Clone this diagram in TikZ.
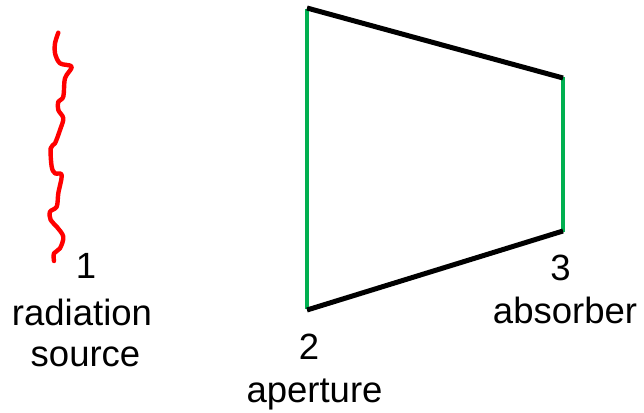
\documentclass[tikz,border=0pt]{standalone}
\usepackage{fontspec}
\setmainfont{Liberation Sans}
\usepackage{tikz}
\usepackage{xcolor}

\definecolor{apgreen}{HTML}{00B050}
\tikzset{
  lbl/.style={anchor=base,inner sep=0pt,font=\fontsize{36.5}{43}\selectfont},
  wall/.style={line width=5pt,black},
  port/.style={line width=3.6pt,apgreen},
}

\begin{document}
\begin{tikzpicture}[x=1pt,y=-1pt]
      \useasboundingbox (0,0) rectangle (644,412);
      % corners of the cavity
      \coordinate (aptop) at (307,9);
      \coordinate (apbot) at (307,309);
      \coordinate (abtop) at (563,77);
      \coordinate (abbot) at (563,232);
      % source
      \draw[line width=4.4pt,red,line cap=round,line join=round] plot[smooth,tension=0.55] coordinates {
        (58.3,32.7) (55,43.3) (55,53.3) (60,63.3) (71.7,66.7) (65,78.3)
        (63.3,96.7) (58.3,101.7) (58.3,110) (63.3,118.3) (60,130) (55,143.3)
        (50.7,148.3) (51.7,166.7) (55,173.3) (61.7,175) (58.3,193.3) (56.7,206.7)
        (50,211.7) (50.7,220) (56.7,226.7) (63.3,236.7) (60,248.3) (54,253.3) (54,261)};
      \draw[port] (aptop) -- (apbot);
      \draw[port] (abtop) -- (abbot);
      \draw[wall] ([yshift=1pt]aptop) -- ([yshift=-1pt]abtop);
      \draw[wall] ([yshift=-1pt]apbot) -- ([yshift=1pt]abbot);
      % labels
      \node[lbl] (n1) at (86,278) {1};
      \node[lbl] (src1) at (82,325) {radiation};
      \node[lbl] (src2) at (85.5,366) {source};
      \node[lbl] (n2) at (309,359) {2};
      \node[lbl] (apt) at (314.5,402) {aperture};
      \node[lbl] (n3) at (560.5,280) {3};
      \node[lbl] (abs) at (565,323) {absorber};
    \end{tikzpicture}
\end{document}
